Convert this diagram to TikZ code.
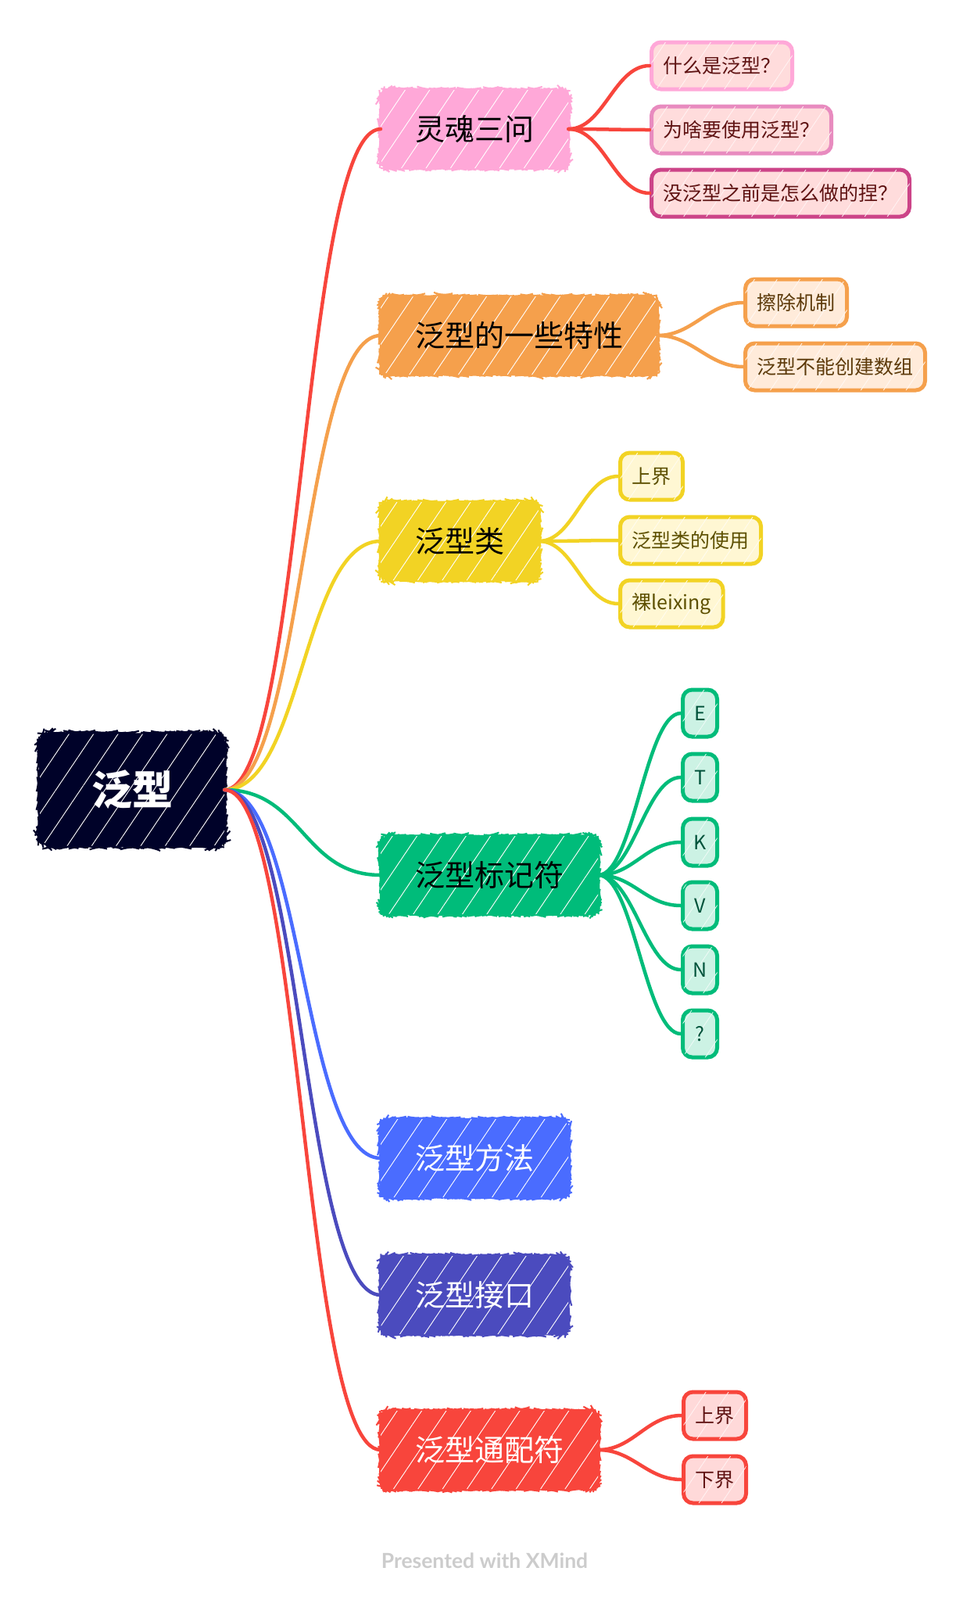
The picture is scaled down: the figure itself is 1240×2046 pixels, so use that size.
\documentclass[tikz,border=0pt]{standalone}
\usepackage{fontspec}
\setmainfont{Noto Sans CJK SC}
\newfontfamily\footfont{Lato}
\usepackage{tikz}
\usetikzlibrary{
    positioning,
    patterns.meta,
    decorations.pathmorphing
}

\definecolor{rootc}{HTML}{000229}
\definecolor{pinkc}{HTML}{FFA8D8}
\definecolor{pinkb}{HTML}{E88BBF}
\definecolor{pinkd}{HTML}{CC4488}
\definecolor{orangec}{HTML}{F5A04C}
\definecolor{yellowc}{HTML}{F2D324}
\definecolor{greenc}{HTML}{00BC7A}
\definecolor{bluec}{HTML}{4A6CFF}
\definecolor{indigoc}{HTML}{4B4BBE}
\definecolor{redc}{HTML}{F8453C}
\definecolor{pinkf}{HTML}{FFDCDC}
\definecolor{orangef}{HTML}{FFEBDA}
\definecolor{yellowf}{HTML}{FFF7D3}
\definecolor{greenf}{HTML}{CCF2E4}
\definecolor{redf}{HTML}{FFD9D9}
\definecolor{redt}{HTML}{5E1212}
\definecolor{brownt}{HTML}{5C3A0A}
\definecolor{olivet}{HTML}{5C4F00}
\definecolor{greent}{HTML}{00523A}
\definecolor{footc}{HTML}{CCCCCC}

\tikzset{
    rough/.style={preaction={draw=#1, line width=2pt, decorate,
        decoration={random steps, segment length=3pt, amplitude=0.6pt}}},
    hatch/.style={postaction={pattern={Lines[angle=56,distance=26pt,line width=0.9pt]},
        pattern color=white}},
    softhatch/.style={postaction={pattern={Lines[angle=56,distance=24pt,line width=0.8pt]},
        pattern color=white!70!#1}},
    topic/.style={fill=#1, rough=#1, hatch, rounded corners=13pt,
        anchor=west, minimum height=100pt, inner xsep=44pt,
        font=\fontsize{38}{38}\selectfont},
    leaf/.style={draw=#1, line width=5pt, rounded corners=12pt,
        anchor=west, minimum height=60pt, inner xsep=15pt,
        font=\fontsize{25}{25}\selectfont},
    link/.style={line width=4.5pt, line cap=round, draw=#1}
}

\begin{document}
\begin{tikzpicture}[x=1pt,y=-1pt]

\useasboundingbox[fill=white] (0,0) rectangle (1240,2046);

% root
\node[fill=rootc, rough=rootc, hatch, rounded corners=16pt,
      minimum width=236pt, minimum height=143pt, text=white,
      font=\fontsize{52}{52}\selectfont\bfseries] (root) at (169,1010) {泛型};

% main topics
\node[topic=pinkc] (soul) at (487,165) {灵魂三问};
\node[topic=orangec] (feat) at (487,429) {泛型的一些特性};
\node[topic=yellowc] (cls) at (487,692) {泛型类};
\node[topic=greenc] (mark) at (487,1119) {泛型标记符};
\node[topic=bluec, text=white] (meth) at (487,1481) {泛型方法};
\node[topic=indigoc, text=white] (intf) at (487,1656) {泛型接口};
\node[topic=redc, text=white] (wild) at (487,1854) {泛型通配符};

% root links
\foreach \t/\c in {soul/redc,feat/orangec,cls/yellowc,mark/greenc,
                   meth/bluec,intf/indigoc,wild/redc}{
    \draw[link=\c] (root.east) .. controls +(100,0) and +(-100,0) .. (\t.west);
}

% soul
\node[leaf=pinkc, fill=pinkf, softhatch=pinkf, text=redt] (what) at (831,84) {什么是泛型？};
\node[leaf=pinkb, fill=pinkf, softhatch=pinkf, text=redt] (why) at (831,166) {为啥要使用泛型？};
\node[leaf=pinkd, fill=pinkf, softhatch=pinkf, text=redt] (before) at (831,247) {没泛型之前是怎么做的捏？};
\foreach \t in {what,why,before}{
    \draw[link=redc] (soul.east) .. controls +(45,0) and +(-45,0) .. (\t.west);
}

% feat
\node[leaf=orangec, fill=orangef, softhatch=orangef, text=brownt] (erase) at (951,387) {擦除机制};
\node[leaf=orangec, fill=orangef, softhatch=orangef, text=brownt] (arr) at (951,469) {泛型不能创建数组};
\foreach \t in {erase,arr}{
    \draw[link=orangec] (feat.east) .. controls +(45,0) and +(-45,0) .. (\t.west);
}

% cls
\node[leaf=yellowc, fill=yellowf, softhatch=yellowf, text=olivet] (upc) at (791,609) {上界};
\node[leaf=yellowc, fill=yellowf, softhatch=yellowf, text=olivet] (use) at (791,691) {泛型类的使用};
\node[leaf=yellowc, fill=yellowf, softhatch=yellowf, text=olivet] (raw) at (791,772) {裸leixing};
\foreach \t in {upc,use,raw}{
    \draw[link=yellowc] (cls.east) .. controls +(45,0) and +(-45,0) .. (\t.west);
}

% mark
\foreach \l/\n/\y in {E/me/912,T/mt/994,K/mk/1077,V/mv/1158,N/mn/1240,?/mq/1322}{
    \node[leaf=greenc, fill=greenf, softhatch=greenf, text=greent,
          minimum width=44pt, inner xsep=0pt] (\n) at (871,\y) {\l};
    \draw[link=greenc] (mark.east) .. controls +(45,0) and +(-45,0) .. (\n.west);
}

% wild
\node[leaf=redc, fill=redf, softhatch=redf, text=redt] (upw) at (872,1810) {上界};
\node[leaf=redc, fill=redf, softhatch=redf, text=redt] (low) at (872,1892) {下界};
\foreach \t in {upw,low}{
    \draw[link=redc] (wild.east) .. controls +(45,0) and +(-45,0) .. (\t.west);
}

% footer
\node[text=footc, font=\footfont\bfseries\fontsize{26.5}{26.5}\selectfont]
    (foot) at (620,1996) {Presented with XMind};

\end{tikzpicture}
\end{document}
